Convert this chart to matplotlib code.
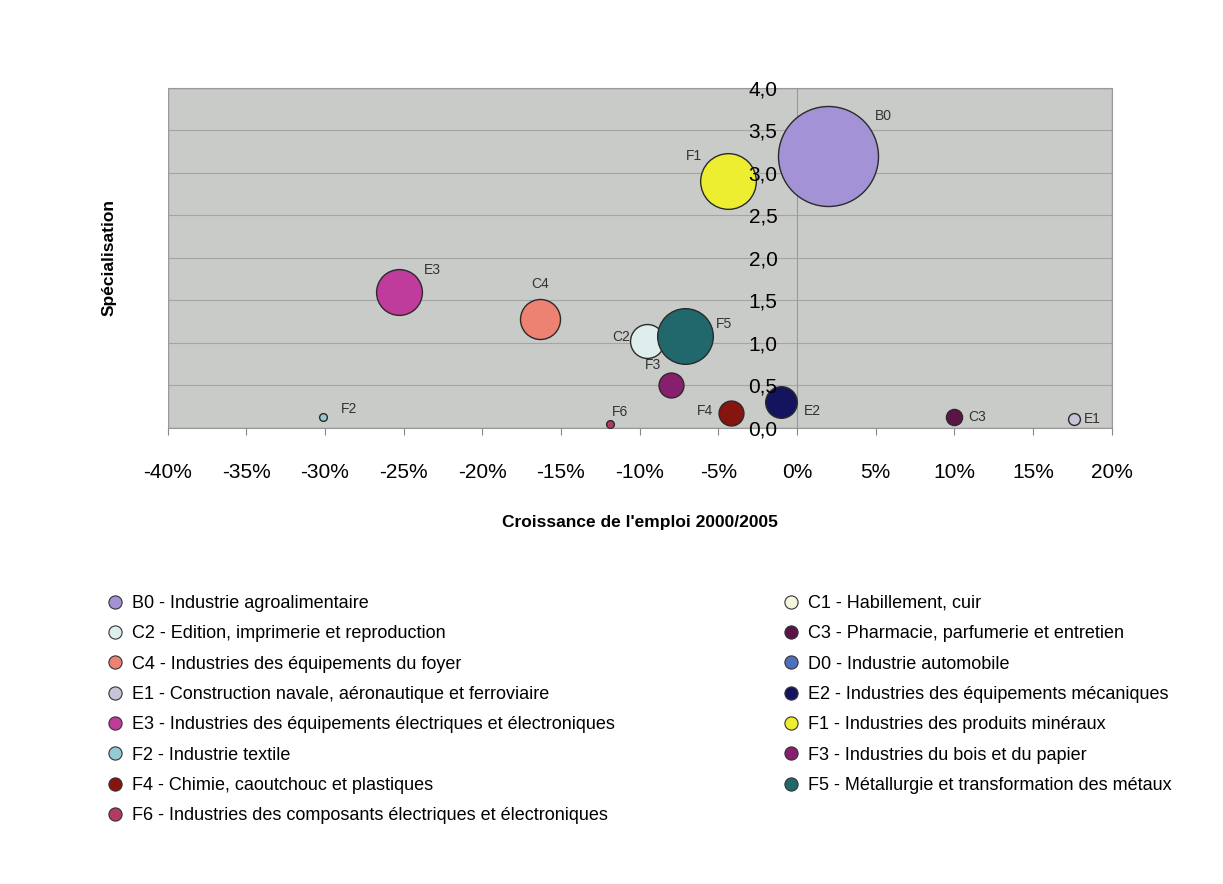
import numpy as np
import matplotlib.pyplot as plt
from matplotlib.lines import Line2D
from matplotlib.patches import Rectangle

plt.rcParams['font.family'] = ['Liberation Sans', 'DejaVu Sans']

codes = ["B0", "C1", "C2", "C3", "C4", "D0", "E1", "E2", "E3",
         "F1", "F2", "F3", "F4", "F5", "F6"]
noms = ["Industrie agroalimentaire",
        "Habillement, cuir",
        "Edition, imprimerie et reproduction",
        "Pharmacie, parfumerie et entretien",
        "Industries des équipements du foyer",
        "Industrie automobile",
        "Construction navale, aéronautique et ferroviaire",
        "Industries des équipements mécaniques",
        "Industries des équipements électriques et électroniques",
        "Industries des produits minéraux",
        "Industrie textile",
        "Industries du bois et du papier",
        "Chimie, caoutchouc et plastiques",
        "Métallurgie et transformation des métaux",
        "Industries des composants électriques et électroniques"]
# croissance de l'emploi 2000/2005 (%), C1 et D0 hors graphique
croissance = [2.0, np.nan, -9.5, 10.0, -16.3, np.nan, 17.6, -1.0, -25.3,
              -4.4, -30.1, -8.0, -4.2, -7.1, -11.9]
specialisation = [3.2, np.nan, 1.02, 0.13, 1.28, np.nan, 0.10, 0.31, 1.6,
                  2.9, 0.13, 0.5, 0.18, 1.08, 0.04]
poids = [100, np.nan, 11.5, 2.6, 16, np.nan, 1.4, 10, 21,
         31, 0.6, 6.2, 6.2, 31, 0.6]

couleurs = ["#a393d6", "#f6f6df", "#ddeeed", "#5c1446", "#ee8272", "#4d6fbd",
            "#c9c3da", "#14145e", "#c03c9c", "#eeee30", "#94c9d6", "#86206e",
            "#86140f", "#20686c", "#b23a66"]

# décalage des étiquettes (pixels)
decalage = {"B0": (55, 40), "F1": (-34, 25), "E3": (34, 22), "C4": (0, 35),
            "C2": (-26, 4), "F5": (39, 12), "F3": (-18, 20), "F4": (-26, 2),
            "E2": (31, -9), "C3": (23, 0), "E1": (18, 0), "F2": (26, 8),
            "F6": (10, 12)}

fig = plt.figure(figsize=(12.23, 8.84), dpi=100, facecolor="white")
ax = fig.add_axes([0.137, 0.516, 0.772, 0.3845])
ax.set_facecolor("#c9cbc8")
ax.spines["left"].set_position(("data", 0))

x = np.array(croissance)
y = np.array(specialisation)
s = np.array(poids) * 51.84
for i in range(len(codes)):
    if np.isnan(x[i]):
        continue
    ax.scatter(x[i], y[i], s=s[i], color=couleurs[i], edgecolor="#2a2a2a",
               linewidth=1.0, zorder=3)
    dx, dy = decalage[codes[i]]
    ax.annotate(codes[i], (x[i], y[i]), xytext=(dx * 0.72, dy * 0.72),
                textcoords="offset points", ha="center", va="center",
                fontsize=10, color="#333333", zorder=4)

ax.set_xlim(-40, 20)
ax.set_ylim(0, 4)
yticks = np.arange(0, 4.01, 0.5)
ax.set_xticks(np.arange(-40, 21, 5))
ax.set_xticklabels([f"{v}%" for v in range(-40, 21, 5)])
ax.set_yticks(yticks)
ax.set_yticklabels([f"{v:.1f}".replace(".", ",") for v in yticks])
ax.tick_params(axis="x", length=5, pad=20, color="#888888", labelsize=15)
ax.tick_params(axis="y", length=0, pad=14, labelsize=15)
ax.yaxis.set_zorder(6)

ax.spines["left"].set_color("#999999")
ax.spines["left"].set_linewidth(0.8)
ax.spines["left"].set_zorder(1)
for side in ["top", "right", "bottom"]:
    ax.spines[side].set_color("#999999")
ax.add_patch(Rectangle((0, 0), 1, 1, transform=ax.transAxes, fill=False,
                       edgecolor="#999999", linewidth=1, zorder=5))
for yt in yticks:
    ax.axhline(yt, color="#a5a5a5", linewidth=0.8, zorder=1)

ax.set_xlabel("Croissance de l'emploi 2000/2005", fontsize=12.5, fontweight="bold")
ax.xaxis.set_label_coords(0.5, -0.256)
ax.set_ylabel("Spécialisation", fontsize=12.5, fontweight="bold")
ax.yaxis.set_label_coords(-0.054, 0.5)

handles = [Line2D([], [], linestyle="none", marker="o", markersize=9.5,
                  markerfacecolor=c, markeredgecolor="#333333", markeredgewidth=0.8)
           for c in couleurs]
labels = [f"{c} - {n}" for c, n in zip(codes, noms)]
ordre = [0, 2, 4, 6, 8, 10, 12, 14, 1, 3, 5, 7, 9, 11, 13]
fig.legend([handles[i] for i in ordre], [labels[i] for i in ordre],
           loc="upper left", bbox_to_anchor=(0.087, 0.327), ncol=2,
           frameon=False, fontsize=13, handlelength=1.0, handletextpad=0.4,
           labelspacing=0.74, columnspacing=9.3, borderpad=0, borderaxespad=0)

fig.savefig("out.png", dpi=100, facecolor=fig.get_facecolor())
